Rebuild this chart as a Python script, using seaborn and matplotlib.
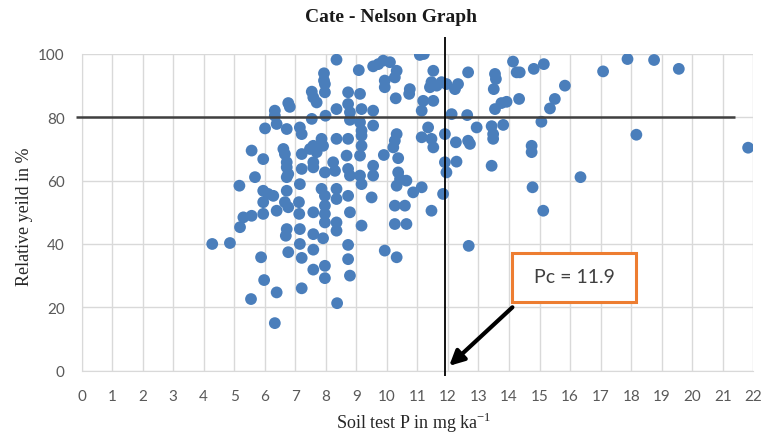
import matplotlib
matplotlib.use("Agg")
import matplotlib.pyplot as plt
import pandas as pd
import seaborn as sns
from matplotlib.patches import Rectangle

# soil test P (mg/kg) and relative yield (%)
soil_p = [
    8.35, 9.08, 9.55, 9.72, 7.94, 7.94, 7.97, 7.54, 7.59, 7.70, 7.97, 8.73, 9.12, 6.77, 6.82, 6.33, 6.33, 6.39, 6.01, 6.72,
    7.15, 7.21, 7.54, 7.99, 8.35, 8.73, 8.79, 9.17, 9.55, 8.79, 9.12, 9.17, 9.17, 9.55, 9.17, 9.12, 8.73, 8.35, 7.86, 7.59,
    7.48, 7.70, 7.91, 7.21, 6.61, 6.66, 5.57, 5.95, 6.72, 6.72, 6.77, 6.72, 7.21, 7.59, 7.59, 7.97, 8.24, 8.30, 8.68, 8.73,
    8.79, 9.12, 9.17, 9.55, 9.55, 5.68, 5.17, 5.95, 6.11, 5.95, 6.28, 6.72, 6.66, 7.15, 7.12, 7.86, 7.97, 7.97, 8.35, 8.35, 8.73, 9.50,
    5.30, 5.57, 5.19, 5.95, 6.39, 6.77, 7.13, 7.59, 7.97, 7.97, 8.35, 8.35, 8.79, 9.17, 6.72, 6.69, 7.15, 7.59, 7.91, 8.73,
    7.15, 7.59, 6.77, 7.21, 5.88, 4.28, 4.86, 8.73, 7.59, 7.97, 7.97, 8.79, 5.98, 6.39, 5.55, 7.21, 8.37, 6.33,
    10.26, 10.59, 10.26, 10.64, 11.46, 9.93, 10.32, 15.12, 12.68,
    11.08, 11.21, 9.88, 10.10, 10.32, 10.26, 9.93, 9.93, 10.29, 10.75, 10.73, 11.52, 11.46, 11.63, 11.41, 11.79, 11.95,
    11.19, 11.52, 11.14, 12.12, 12.33, 12.23, 12.66, 12.63,
    14.13, 14.25, 14.35, 13.54, 13.57, 13.50, 14.81, 15.14, 15.83, 15.50, 15.34, 13.92, 13.75, 14.33, 13.54, 15.06, 13.81,
    13.43, 13.48, 13.48, 12.94, 12.66, 12.72, 12.26, 11.90,
    11.35, 11.14, 11.46, 11.52, 10.32, 10.26, 10.21, 9.90, 10.37, 10.37, 10.43, 10.64, 10.32, 10.86, 11.14, 11.90, 11.95,
    12.28, 13.43, 14.74, 14.74, 14.77, 11.84,
    17.08, 17.88, 18.75, 19.56, 18.17, 21.83, 16.34,
]
rel_yield = [
    98.2, 94.9, 96.1, 96.8, 93.9, 91.6, 90.5, 88.1, 86.3, 84.7, 87.9, 87.9, 87.4, 84.5, 83.3, 82.1, 80.5, 77.9, 76.5, 76.3,
    76.8, 74.7, 79.5, 80.5, 82.6, 84.2, 81.6, 82.6, 82.1, 79.2, 78.4, 75.8, 74.2, 77.4, 71.0, 67.9, 73.2, 73.2, 73.2, 71.0,
    70.0, 69.0, 71.0, 68.4, 70.0, 68.4, 69.5, 66.8, 65.8, 64.2, 62.1, 61.1, 63.7, 65.8, 64.2, 62.6, 65.8, 63.1, 67.9, 63.7,
    61.6, 61.6, 58.9, 64.7, 61.6, 61.1, 58.4, 56.8, 55.8, 53.2, 55.2, 56.8, 53.2, 58.9, 53.2, 57.4, 55.2, 52.1, 57.4, 54.2, 55.2, 54.7,
    48.4, 48.9, 45.3, 49.5, 50.5, 51.6, 49.5, 50.0, 49.5, 46.8, 46.8, 44.2, 50.0, 45.8, 44.7, 42.6, 44.7, 43.1, 41.8, 39.7,
    40.0, 38.2, 37.4, 35.6, 35.8, 40.0, 40.3, 35.2, 31.9, 33.1, 29.2, 30.0, 28.6, 24.7, 22.6, 26.0, 21.3, 15.0,
    52.1, 52.1, 46.3, 46.3, 50.5, 37.9, 35.8, 50.5, 39.4,
    99.7, 100.0, 97.9, 97.4, 94.7, 92.6, 91.6, 89.5, 86.0, 88.9, 87.4, 94.7, 91.1, 90.0, 89.5, 91.1, 90.5,
    85.2, 85.2, 82.1, 81.0, 90.5, 88.9, 94.2, 80.7,
    97.6, 94.2, 94.2, 93.7, 92.1, 88.9, 95.3, 96.8, 90.0, 85.8, 82.8, 84.9, 84.5, 85.8, 82.6, 78.6, 77.6,
    77.2, 74.7, 73.2, 76.8, 72.6, 71.6, 72.1, 74.7,
    76.8, 73.7, 73.2, 70.5, 74.7, 72.6, 70.5, 68.1, 67.1, 62.6, 60.5, 60.0, 58.4, 56.3, 57.9, 65.8, 62.6,
    66.0, 64.7, 71.0, 69.0, 57.9, 55.8,
    94.5, 98.4, 98.1, 95.3, 74.5, 70.4, 61.1,
]

pc_value = 11.9
critical_yield = 80
x_ticks = list(range(0, 23))
y_ticks = [0, 20, 40, 60, 80, 100]

sns.set_style("white")
plt.rcParams["font.family"] = ["Lato", "DejaVu Sans"]

df = pd.DataFrame({"soil_p": soil_p, "rel_yield": rel_yield})

fig = plt.figure(figsize=(7.62, 4.35), dpi=100)
ax = fig.add_axes([0.107, 0.1457, 0.8816, 0.7279])

sns.scatterplot(data=df, x="soil_p", y="rel_yield", ax=ax, s=72,
                color="#4a7ebb", edgecolor="none", zorder=3)

ax.set_xlim(0, 22)
ax.set_ylim(0, 100)
ax.set_xticks(x_ticks)
ax.set_yticks(y_ticks)
ax.grid(True, color="#d9d9d9", lw=1)
ax.set_axisbelow(True)
for side in ["top", "right"]:
    ax.spines[side].set_visible(False)
for side in ["left", "bottom"]:
    ax.spines[side].set_color("#d9d9d9")
ax.tick_params(axis="both", length=0, labelsize=11, labelcolor="#595959")
ax.tick_params(axis="x", pad=13)
ax.tick_params(axis="y", pad=12)

# Cate-Nelson split lines
ax.hlines(critical_yield, -0.18, 21.4, color="#404040", lw=1.8, zorder=4, clip_on=False)
ax.vlines(pc_value, -1.6, 105.4, color="black", lw=1.3, zorder=4, clip_on=False)

# Pc callout
ax.add_patch(Rectangle((14.11, 21.8), 4.04, 15.3, facecolor="white",
                       edgecolor="#ed7d31", lw=2.2, zorder=5))
ax.text(16.13, 29.6, f"Pc = {pc_value}", ha="center", va="center",
        fontsize=14, color="#404040", zorder=6)
ax.annotate("", xy=(12.04, 1.5), xytext=(14.11, 20.0),
            arrowprops=dict(arrowstyle="-|>", lw=3, color="black",
                            mutation_scale=22, shrinkA=0, shrinkB=0),
            zorder=6)

ax.set_xlabel(r"Soil test P in mg ka$^{\mathregular{-1}}$", family="Liberation Serif",
              fontsize=13, color="#262626")
ax.set_ylabel("Relative yeild in %", family="Liberation Serif", fontsize=13, color="#262626")
ax.xaxis.set_label_coords(0.495, -0.125)
ax.yaxis.set_label_coords(-0.072, 0.49)

fig.text(391 / 762, 1 - 18 / 435, "Cate - Nelson Graph", ha="center", va="center",
         family="Liberation Serif", weight="bold", fontsize=14, color="#1a1a1a")

plt.savefig("out.png", dpi=100)
